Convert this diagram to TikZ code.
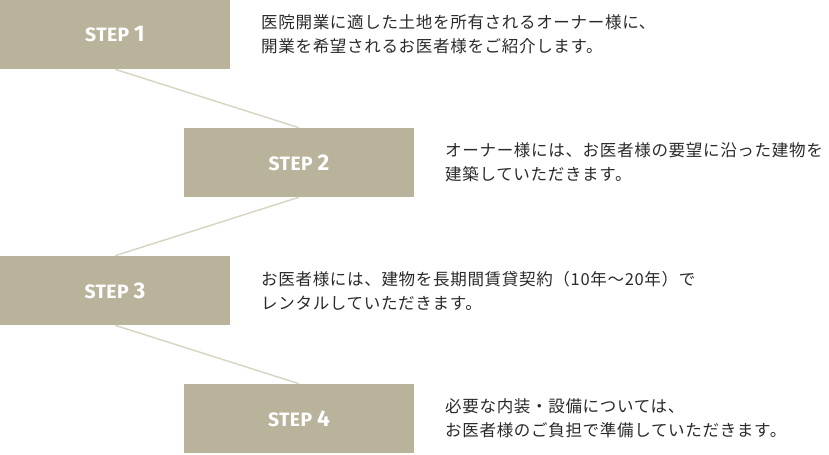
\documentclass[tikz,border=0pt]{standalone}
\usepackage{fontspec}
\usepackage{tikz}
\usetikzlibrary{positioning}
\newfontfamily\jpfont{Noto Sans CJK JP}[LetterSpace=4]
\newfontfamily\stepfont{Fira Sans}[LetterSpace=2]
\definecolor{stepbg}{HTML}{B9B39B}
\definecolor{linkline}{HTML}{D9D4C3}
\definecolor{bodytext}{HTML}{2A2A2A}
\newcommand{\stepno}[1]{\fontsize{17}{17}\selectfont #1}
\tikzset{stepbox/.style={rectangle,fill=stepbg,draw=none,text=white,minimum width=172.5pt,minimum height=51.75pt,inner sep=0mm,font=\stepfont\bfseries\fontsize{14.5}{14.5}\selectfont}}
\tikzset{stepnote/.style={align=left,anchor=west,inner sep=0mm,text=bodytext,font=\jpfont\fontsize{12.4}{18}\selectfont}}
\tikzset{steplink/.style={draw=linkline,line width=1.1pt}}

\begin{document}
\begin{tikzpicture}[x=0.75pt,y=-0.75pt]
    \useasboundingbox (0,0) rectangle (829,454);

    \node[stepbox] (s1) at (115, 34.5)  {STEP \stepno{1}};
    \node[stepbox] (s2) at (299, 162.5) {STEP \stepno{2}};
    \node[stepbox] (s3) at (115, 290.5) {STEP \stepno{3}};
    \node[stepbox] (s4) at (299, 418.5) {STEP \stepno{4}};

    \draw[steplink] (s1.south) -- (s2.north);
    \draw[steplink] (s2.south) -- (s3.north);
    \draw[steplink] (s3.south) -- (s4.north);

    \node[right = 23pt of s1,stepnote] (n1) {医院開業に適した土地を所有されるオーナー様に、\\開業を希望されるお医者様をご紹介します。};
    \node[right = 23pt of s2,stepnote] (n2) {オーナー様には、お医者様の要望に沿った建物を\\建築していただきます。};
    \node[right = 23pt of s3,stepnote] (n3) {お医者様には、建物を長期間賃貸契約（10年〜20年）で\\レンタルしていただきます。};
    \node[right = 23pt of s4,stepnote] (n4) {必要な内装・設備については、\\お医者様のご負担で準備していただきます。};
  \end{tikzpicture}
\end{document}
